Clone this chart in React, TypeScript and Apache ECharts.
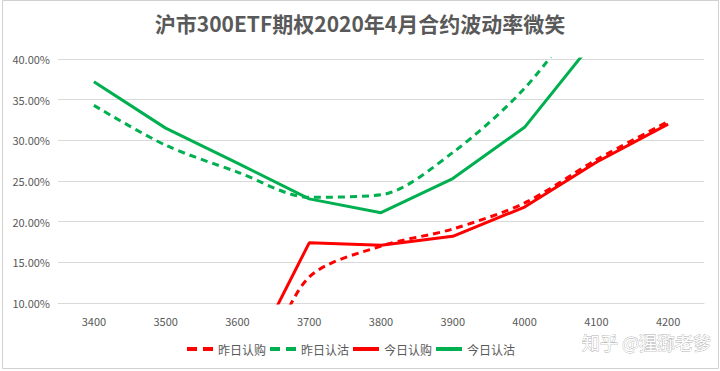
import React, { useEffect, useRef } from "react";
import * as echarts from "echarts";

const categories = ["3400", "3500", "3600", "3700", "3800", "3900", "4000", "4100", "4200"];
const yesterdayCall = [0, 0, 0, 13.2, 17.0, 19.1, 22.3, 27.6, 32.3];
const yesterdayPut = [34.3, 29.4, 26.1, 23.0, 23.3, 28.5, 36.4, 47.6, 58.0];
const todayCall = [0, 0, 0, 17.4, 17.1, 18.2, 21.8, 27.3, 32.0];
const todayPut = [37.2, 31.5, 27.2, 22.8, 21.1, 25.3, 31.6, 42.6, 53.0];
const seriesNames = ["昨日认购", "昨日认沽", "今日认购", "今日认沽"];

const RED = "#FF0000";
const GREEN = "#00B050";
const FONT = "'Noto Sans CJK SC', 'Noto Sans', sans-serif";
const DASH_ICON = "path://M0,0 H10 V4 H0 Z M16,0 H26 V4 H16 Z";
const SOLID_ICON = "path://M0,0 H26 V4 H0 Z";

export default function App() {
  const ref = useRef<HTMLDivElement>(null);
  useEffect(() => {
    if (!ref.current) return;
    const chart = echarts.init(ref.current, undefined, { renderer: "svg" });
    const mk = (name: string, data: number[], color: string, dashed: boolean) => ({
      name,
      type: "line",
      data,
      symbol: "none",
      smooth: dashed ? 0.3 : false,
      clip: true,
      lineStyle: { color, width: 3, type: dashed ? [7, 5] : "solid" },
      itemStyle: { color },
    });
    chart.setOption({
      animation: false,
      backgroundColor: "#ffffff",
      textStyle: { fontFamily: FONT },
      title: {
        text: "沪市300ETF期权2020年4月合约波动率微笑",
        left: "center",
        top: 7,
        textStyle: { fontSize: 21, fontWeight: "bold", color: "#595959", fontFamily: FONT },
      },
      grid: { left: 58, right: 16, top: 59, bottom: 68 },
      xAxis: {
        type: "category",
        data: categories,
        boundaryGap: true,
        axisLine: { show: true, lineStyle: { color: "#d9d9d9" } },
        axisTick: { show: false },
        axisLabel: { color: "#595959", fontSize: 11, margin: 12, fontFamily: FONT },
      },
      yAxis: {
        type: "value",
        min: 10,
        max: 40,
        interval: 5,
        axisLine: { show: false },
        axisTick: { show: false },
        axisLabel: {
          color: "#595959",
          fontSize: 11,
          margin: 8,
          fontFamily: FONT,
          formatter: (v: number) => v.toFixed(2) + "%",
        },
        splitLine: { lineStyle: { color: "#d9d9d9" } },
      },
      legend: {
        data: [
          { name: seriesNames[0], icon: DASH_ICON },
          { name: seriesNames[1], icon: DASH_ICON },
          { name: seriesNames[2], icon: SOLID_ICON },
          { name: seriesNames[3], icon: SOLID_ICON },
        ],
        bottom: 11,
        left: 182,
        itemWidth: 26,
        itemHeight: 4,
        itemGap: 4,
        textStyle: { color: "#595959", fontSize: 12, fontFamily: FONT },
      },
      graphic: [
        {
          type: "rect",
          shape: { x: 2.5, y: 0.5, width: 716, height: 368 },
          style: { fill: "none", stroke: "#d0d0d0", lineWidth: 1 },
          silent: true,
        },
        {
          type: "text",
          x: 582,
          y: 333,
          style: {
            text: "知乎 @猩猕老爹",
            fontSize: 18,
            fontFamily: FONT,
            fill: "#ffffff",
            stroke: "#b0b0b0",
            lineWidth: 0.8,
          },
          silent: true,
        },
      ],
      series: [
        mk(seriesNames[0], yesterdayCall, RED, true),
        mk(seriesNames[1], yesterdayPut, GREEN, true),
        mk(seriesNames[2], todayCall, RED, false),
        mk(seriesNames[3], todayPut, GREEN, false),
      ],
    });
    return () => chart.dispose();
  }, []);
  return (
    <div
      ref={ref}
      style={{ position: "absolute", left: 0, top: 0, width: 720, height: 371 }}
    />
  );
}
